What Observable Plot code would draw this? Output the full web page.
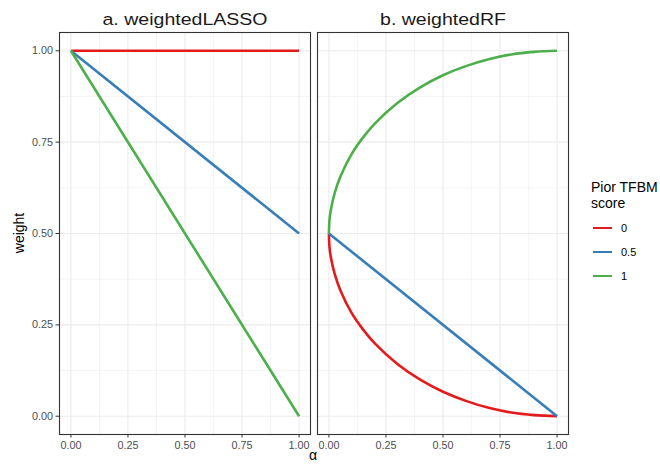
<!DOCTYPE html>
<html>
<head>
<meta charset="utf-8">
<script src="https://cdn.jsdelivr.net/npm/d3@7"></script>
<script src="https://cdn.jsdelivr.net/npm/@observablehq/plot@0.6"></script>
<style>
  body { margin: 0; background: #fff; font-family: "Liberation Sans", Arial, sans-serif; }
  #wrap { position: relative; width: 660px; height: 465px; }
  .ov { position: absolute; white-space: nowrap; }
</style>
</head>
<body>
<div id="wrap"></div>
<script>
// ---- data ----
const panels = ["a. weightedLASSO", "b. weightedRF"];
const scores = ["0", "0.5", "1"];
const colors = ["#E41A1C", "#377EB8", "#4DAF4A"];
const xTicks = [0, 0.25, 0.5, 0.75, 1];
const yTicks = [0, 0.25, 0.5, 0.75, 1];
const minorTicks = [0.125, 0.375, 0.625, 0.875];

// weightedLASSO (straight lines)
const lassoAlpha = [0, 1];
const lassoS0 = [1, 1];
const lassoS05 = [1, 0.5];
const lassoS1 = [1, 0];

// weightedRF
const rfAlpha = [0, 0.003, 0.01, 0.025, 0.05, 0.1, 0.15, 0.2, 0.3, 0.4, 0.5, 0.6, 0.7, 0.8, 0.9, 1];
const rfS1 = [0.5, 0.54, 0.57, 0.61, 0.655, 0.718, 0.763, 0.8, 0.857, 0.9, 0.933, 0.958, 0.977, 0.99, 0.997, 1];
const rfS0 = [0.5, 0.46, 0.43, 0.39, 0.345, 0.282, 0.237, 0.2, 0.143, 0.1, 0.067, 0.042, 0.023, 0.01, 0.003, 0];
const rfS05Alpha = [0, 1];
const rfS05 = [0.5, 0];

// ---- build table ----
const rows = [];
function add(panel, score, xs, ys) {
  xs.forEach((a, i) => rows.push({panel, score, alpha: a, weight: ys[i]}));
}
add(panels[0], "0", lassoAlpha, lassoS0);
add(panels[0], "0.5", lassoAlpha, lassoS05);
add(panels[0], "1", lassoAlpha, lassoS1);
add(panels[1], "0", rfAlpha, rfS0);
add(panels[1], "0.5", rfS05Alpha, rfS05);
add(panels[1], "1", rfAlpha, rfS1);

const font = '"Liberation Sans", Arial, sans-serif';

const chart = Plot.plot({
  width: 660,
  height: 465,
  marginTop: 32,
  marginBottom: 31,
  marginLeft: 58,
  marginRight: 92,
  style: {fontFamily: font, background: "#fff"},
  fx: {domain: panels, paddingInner: 0.0286, paddingOuter: 0, label: null},
  x: {domain: [-0.05, 1.05], label: null},
  y: {domain: [-0.05, 1.05], label: null},
  color: {domain: scores, range: colors},
  marks: [
    Plot.ruleX(minorTicks, {stroke: "#ebebeb", strokeWidth: 0.55}),
    Plot.ruleY(minorTicks, {stroke: "#ebebeb", strokeWidth: 0.55}),
    Plot.ruleX(xTicks, {stroke: "#ebebeb", strokeWidth: 1.1}),
    Plot.ruleY(yTicks, {stroke: "#ebebeb", strokeWidth: 1.1}),
    Plot.line(rows, {x: "alpha", y: "weight", z: "score", stroke: "score", fx: "panel",
      curve: "catmull-rom", strokeWidth: 2.6, strokeLinecap: "butt", strokeLinejoin: "round"}),
    Plot.frame({stroke: "#333333", strokeWidth: 1.1}),
    Plot.axisX({ticks: xTicks, tickFormat: d3.format(".2f"), tickSize: 3.5, tickPadding: 3,
      fontSize: 10.8, stroke: "#333333", fill: "#4d4d4d", label: null}),
    Plot.axisY({ticks: yTicks, tickFormat: d3.format(".2f"), tickSize: 3.5, tickPadding: 3,
      fontSize: 10.8, stroke: "#333333", fill: "#4d4d4d", label: null}),
    Plot.axisFx({anchor: "top", tickSize: 0, tickPadding: 8, fontSize: 17, fill: "#1a1a1a",
      label: null, className: "fxaxis"})
  ]
});

// widen the facet titles horizontally to match the reference's stretched strip text
d3.select(chart).selectAll("g[aria-label='fx-axis tick label'] text, .fxaxis text").each(function () {
  const t = this.getAttribute("transform") || "";
  if (!t.includes("scale")) this.setAttribute("transform", t + " scale(1.15,1)");
});

const wrap = document.getElementById("wrap");
wrap.appendChild(chart);

function ov(text, css) {
  const d = document.createElement("div");
  d.className = "ov";
  d.textContent = text;
  Object.assign(d.style, css);
  wrap.appendChild(d);
  return d;
}
// axis titles
ov("weight", {left: "11px", top: "233px", fontSize: "14px", color: "#000",
  transform: "translate(-50%, -50%) rotate(-90deg)", transformOrigin: "center", marginLeft: "8px"});
ov("α", {left: "313px", top: "455px", fontSize: "14px", lineHeight: "14px", color: "#000", transform: "translate(-50%, -50%)"});

// legend
ov("Pior TFBM", {left: "591px", top: "179px", fontSize: "14px", color: "#000", lineHeight: "16px"});
ov("score", {left: "591px", top: "195px", fontSize: "14px", color: "#000", lineHeight: "16px"});
const keyY = [228, 252, 276];
scores.forEach((s, i) => {
  const k = document.createElement("div");
  Object.assign(k.style, {position: "absolute", left: "593px", top: (keyY[i] - 1.3) + "px",
    width: "19px", height: "2.6px", background: colors[i]});
  wrap.appendChild(k);
  ov(s, {left: "621px", top: (keyY[i] - 7) + "px", fontSize: "11px", lineHeight: "14px", color: "#000"});
});
</script>
</body>
</html>
